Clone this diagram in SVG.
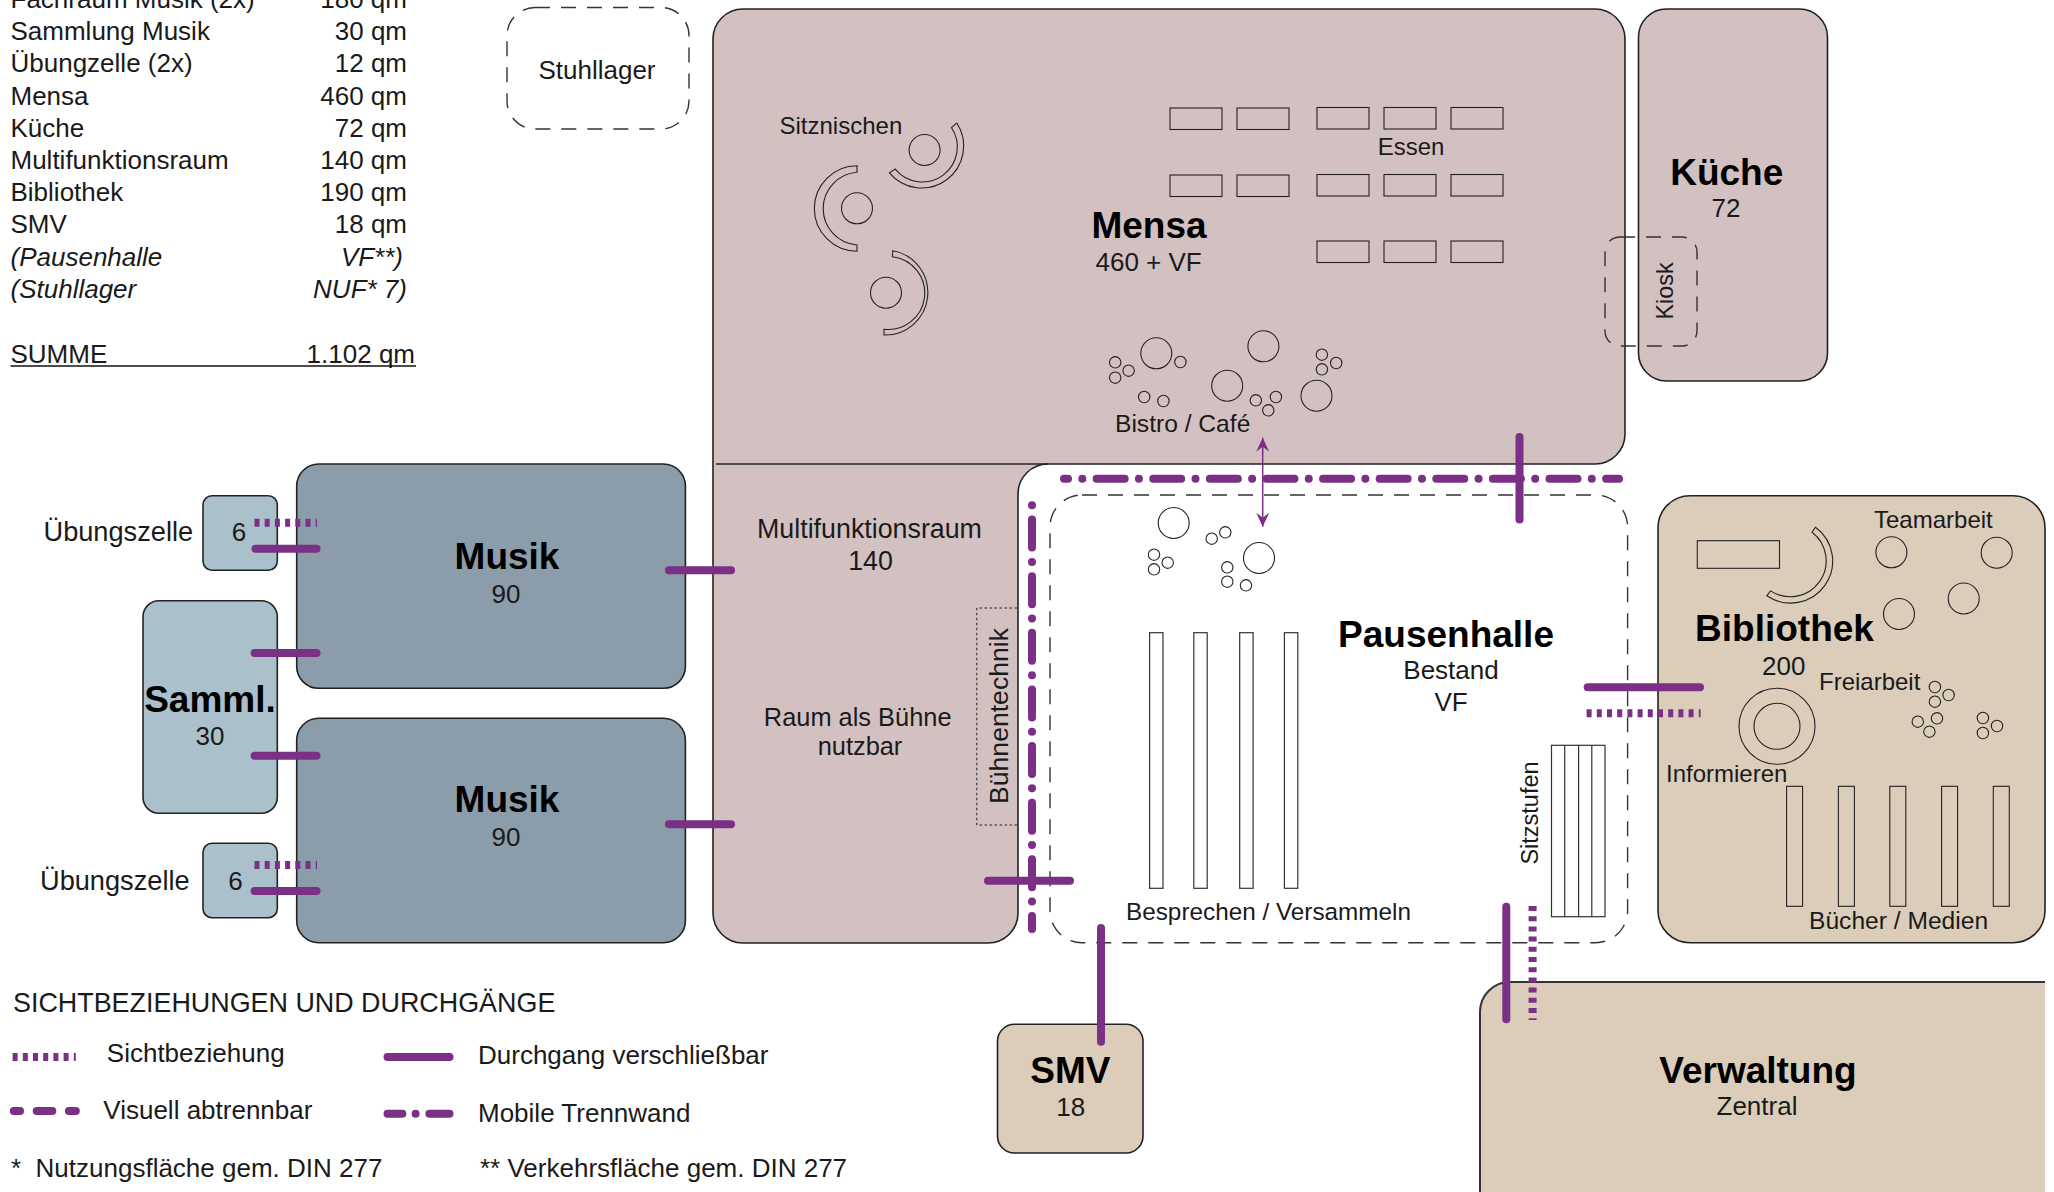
<svg xmlns="http://www.w3.org/2000/svg" width="2054" height="1192" viewBox="0 0 2054 1192">
<defs>
<marker id="head" viewBox="0 0 14 13" refX="14" refY="6.5" markerWidth="14" markerHeight="13" markerUnits="userSpaceOnUse" orient="auto-start-reverse"><path d="M14 6.5 L0 0 L5 6.5 L0 13 Z" fill="#7b2f85"/></marker>
</defs>
<style>
text{font-family:"Liberation Sans",Arial,sans-serif;fill:#1a1a1a;font-size:26px;white-space:pre}
.m{text-anchor:middle}
.e{text-anchor:end}
.t{font-weight:bold;font-size:37px;fill:#000;text-anchor:middle}
.s{font-size:24px}
.i{font-style:italic}
.room{stroke:#222;stroke-width:1.6}
.men{fill:#d3c1c2}
.mus{fill:#8b9daa}
.sam{fill:#aac1cb}
.bib{fill:#dbcdba}
.dash{fill:none;stroke:#333;stroke-width:1.4;stroke-dasharray:15 11}
.fur{fill:none;stroke:#222;stroke-width:1.1}
.ben{fill:#fff;stroke:#333;stroke-width:1.2}
.door,.sight,.wall,.vis,.arrow{fill:none;stroke:#7b2f85}
.door{stroke-width:8;stroke-linecap:round}
.sight{stroke-width:8;stroke-dasharray:5 5.2}
.wall{stroke-width:8;stroke-linecap:round;stroke-dasharray:28 14.3 .01 14.3}
.vis{stroke-width:8;stroke-linecap:round}
.arrow{stroke-width:1.5;marker-start:url(#head);marker-end:url(#head)}
</style>

<g id="area-table">
<text x="10.5" y="8">Fachraum Musik (2x)</text><text class="e" x="407" y="8">180 qm</text>
<text x="10.5" y="40">Sammlung Musik</text><text class="e" x="407" y="40">30 qm</text>
<text x="10.5" y="72">Übungzelle (2x)</text><text class="e" x="407" y="72">12 qm</text>
<text x="10.5" y="105">Mensa</text><text class="e" x="407" y="105">460 qm</text>
<text x="10.5" y="137">Küche</text><text class="e" x="407" y="137">72 qm</text>
<text x="10.5" y="169">Multifunktionsraum</text><text class="e" x="407" y="169">140 qm</text>
<text x="10.5" y="201">Bibliothek</text><text class="e" x="407" y="201">190 qm</text>
<text x="10.5" y="233">SMV</text><text class="e" x="407" y="233">18 qm</text>
<text class="i" x="10.5" y="266">(Pausenhalle</text><text class="i e" x="403" y="266">VF**)</text>
<text class="i" x="10.5" y="298">(Stuhllager</text><text class="i e" x="407" y="298">NUF* 7)</text>
<text x="10.5" y="363">SUMME</text><text class="e" x="415" y="363">1.102 qm</text>
<line x1="10.5" y1="366" x2="416" y2="366" stroke="#111" stroke-width="1.5"/>
</g>

<g id="stuhllager">
<rect class="dash" x="507" y="7.5" width="182" height="121.5" rx="28"/>
<text class="m" x="597" y="79">Stuhllager</text>
</g>

<g id="mensa-multifunktionsraum">
<path class="room men" d="M743 9H1595A30 30 0 0 1 1625 39V434A30 30 0 0 1 1595 464H1048A30 30 0 0 0 1018 494V913A30 30 0 0 1 988 943H743A30 30 0 0 1 713 913V39A30 30 0 0 1 743 9Z"/>
<line x1="716" y1="464" x2="1048" y2="464" stroke="#222" stroke-width="1.6"/>
</g>

<g id="mensa">
<text class="s" x="779.5" y="134">Sitznischen</text>
<g class="fur">
<circle cx="924.6" cy="150" r="15.5"/>
<path d="M956.8 123A42 42 0 0 1 889.4 172.9L895.2 169.1A35 35 0 0 0 951.4 127.5Z"/>
<circle cx="857" cy="208.3" r="15.5"/>
<path d="M857 165.8A42.7 42.7 0 0 0 857 251.2V245A36.5 36.5 0 0 1 857 172.2Z"/>
<circle cx="886" cy="292.7" r="15.5"/>
<path d="M892.9 250.7A42.5 42.5 0 0 1 884 335V329.3A36.5 36.5 0 0 0 892.4 256.7Z"/>
<rect x="1170" y="108" width="52" height="21.5"/><rect x="1237" y="108" width="52" height="21.5"/>
<rect x="1170" y="175" width="52" height="21.5"/><rect x="1237" y="175" width="52" height="21.5"/>
<rect x="1317" y="107.5" width="52" height="21.5"/><rect x="1384" y="107.5" width="52" height="21.5"/><rect x="1451" y="107.5" width="52" height="21.5"/>
<rect x="1317" y="174.5" width="52" height="21.5"/><rect x="1384" y="174.5" width="52" height="21.5"/><rect x="1451" y="174.5" width="52" height="21.5"/>
<rect x="1317" y="241" width="52" height="21.5"/><rect x="1384" y="241" width="52" height="21.5"/><rect x="1451" y="241" width="52" height="21.5"/>
<circle cx="1156.3" cy="353.3" r="15.5"/><circle cx="1263.4" cy="346.3" r="15.5"/><circle cx="1227.2" cy="385.7" r="15.5"/><circle cx="1316.5" cy="395.7" r="15.5"/>
<circle cx="1115.2" cy="362.3" r="5.7"/><circle cx="1128.6" cy="370.7" r="5.7"/><circle cx="1115.2" cy="377.7" r="5.7"/><circle cx="1180.4" cy="362" r="5.7"/><circle cx="1144.2" cy="397" r="5.7"/><circle cx="1163.4" cy="401" r="5.7"/><circle cx="1255.8" cy="400.3" r="5.7"/><circle cx="1275.9" cy="397" r="5.7"/><circle cx="1268.3" cy="410.3" r="5.7"/><circle cx="1321.9" cy="354.7" r="5.7"/><circle cx="1336.2" cy="363" r="5.7"/><circle cx="1321.9" cy="369.3" r="5.7"/>
</g>
<text class="s" x="1377.7" y="155">Essen</text>
<text class="t" x="1149" y="238">Mensa</text>
<text class="m" x="1148.6" y="271">460 + VF</text>
<text class="s" style="font-size:24.6px" x="1115" y="432">Bistro / Café</text>
</g>

<g id="multifunktionsraum">
<text class="m" style="font-size:26.8px" x="869.5" y="538">Multifunktionsraum</text>
<text class="m" style="font-size:26.8px" x="870.5" y="570">140</text>
<text class="m" style="font-size:25.4px" x="857.7" y="726">Raum als Bühne</text>
<text class="m" style="font-size:25.4px" x="860" y="755">nutzbar</text>
<path d="M1017 608H976.8V825H1017" fill="none" stroke="#222" stroke-width="1" stroke-dasharray="2.5 2.5"/>
<text class="m" style="font-size:26.6px" transform="translate(1008 716) rotate(-90)">Bühnentechnik</text>
</g>

<g id="kueche">
<rect class="room men" x="1638.5" y="9" width="189" height="372" rx="28"/>
<text class="t" x="1726.7" y="185">Küche</text>
<text class="m" x="1726" y="217">72</text>
</g>

<g id="kiosk">
<rect class="dash" x="1605" y="237" width="92" height="109" rx="15"/>
<text class="m" style="font-size:23.4px" transform="translate(1673 291) rotate(-90)">Kiosk</text>
</g>

<g id="musik-1">
<rect class="room mus" x="296.7" y="464" width="388.7" height="224.3" rx="22"/>
<text class="t" x="507" y="569">Musik</text>
<text class="m" x="506" y="602.5">90</text>
</g>
<g id="musik-2">
<rect class="room mus" x="296.7" y="718.3" width="388.7" height="224.4" rx="22"/>
<text class="t" x="507" y="812">Musik</text>
<text class="m" x="506" y="845.5">90</text>
</g>
<g id="sammlung">
<rect class="room sam" x="143" y="600.7" width="134.3" height="212.6" rx="16"/>
<text class="t" x="210" y="711.5">Samml.</text>
<text class="m" x="210" y="745">30</text>
</g>
<g id="uebungszelle-1">
<rect class="room sam" x="203" y="495.7" width="74.3" height="74.6" rx="9"/>
<text class="m" x="239" y="541">6</text>
<text style="font-size:27.2px" x="43.5" y="540.7">Übungszelle</text>
</g>
<g id="uebungszelle-2">
<rect class="room sam" x="203" y="843.3" width="74.3" height="74.4" rx="9"/>
<text class="m" x="235.6" y="890">6</text>
<text style="font-size:27.2px" x="40" y="890">Übungszelle</text>
</g>

<g id="pausenhalle">
<rect class="dash" x="1050" y="495" width="577.6" height="447.7" rx="32"/>
<g class="fur">
<circle cx="1173.7" cy="523" r="15.5"/><circle cx="1259" cy="558" r="15.5"/>
<circle cx="1211.7" cy="538.7" r="5.7"/><circle cx="1225.3" cy="532.3" r="5.7"/><circle cx="1154" cy="554.7" r="5.7"/><circle cx="1167.7" cy="562.7" r="5.7"/><circle cx="1154" cy="569.3" r="5.7"/><circle cx="1227.3" cy="567.3" r="5.7"/><circle cx="1227.3" cy="581.7" r="5.7"/><circle cx="1246" cy="585.3" r="5.7"/>
</g>
<rect class="ben" x="1149.6" y="632.7" width="13.4" height="255.6"/>
<rect class="ben" x="1193.8" y="632.7" width="13.4" height="255.6"/>
<rect class="ben" x="1239.7" y="632.7" width="13.4" height="255.6"/>
<rect class="ben" x="1284.4" y="632.7" width="13.4" height="255.6"/>
<rect class="ben" x="1551.5" y="745.3" width="53.5" height="171.4"/>
<path class="ben" d="M1564.7 745.3V916.7M1578.6 745.3V916.7M1591.8 745.3V916.7"/>
<text class="t" x="1446" y="647">Pausenhalle</text>
<text class="m" x="1451" y="679">Bestand</text>
<text class="m" x="1451" y="711">VF</text>
<text class="s" style="font-size:24.3px" x="1126" y="920">Besprechen / Versammeln</text>
<text class="m" style="font-size:23.5px" transform="translate(1538.4 813) rotate(-90)">Sitzstufen</text>
</g>

<g id="bibliothek">
<rect class="room bib" x="1658" y="495.7" width="387" height="447" rx="32"/>
<g class="fur">
<rect x="1697.3" y="540.7" width="82.2" height="27.6"/>
<path d="M1815.5 527.2A42 42 0 0 1 1766.9 595.7L1770.5 590.9A36 36 0 0 0 1812.1 532.2Z"/>
<circle cx="1891.4" cy="552.3" r="15.5"/><circle cx="1996.7" cy="552.7" r="15.5"/><circle cx="1963.7" cy="598.5" r="15.5"/><circle cx="1899" cy="614" r="15.5"/>
<circle cx="1934.9" cy="687" r="5.7"/><circle cx="1948.6" cy="695" r="5.7"/><circle cx="1934.9" cy="701.7" r="5.7"/><circle cx="1937" cy="718.3" r="5.7"/><circle cx="1917.8" cy="721.7" r="5.7"/><circle cx="1929.4" cy="731.7" r="5.7"/><circle cx="1982.9" cy="718" r="5.7"/><circle cx="1997" cy="726" r="5.7"/><circle cx="1982.9" cy="733" r="5.7"/>
<circle cx="1777" cy="726.3" r="38"/><circle cx="1777" cy="726.3" r="23"/>
<rect x="1786.6" y="786.3" width="16" height="120"/><rect x="1838.4" y="786.3" width="16" height="120"/><rect x="1889.8" y="786.3" width="16" height="120"/><rect x="1941.6" y="786.3" width="16" height="120"/><rect x="1993.3" y="786.3" width="16" height="120"/>
</g>
<text class="s" x="1874" y="528">Teamarbeit</text>
<text class="t" x="1784.5" y="641">Bibliothek</text>
<text class="m" x="1783.7" y="675">200</text>
<text class="s" x="1819" y="690">Freiarbeit</text>
<text class="s" x="1666" y="782">Informieren</text>
<text class="s" style="font-size:24.6px" x="1809" y="929">Bücher / Medien</text>
</g>

<g id="smv">
<rect class="room bib" x="997.5" y="1024.3" width="145.5" height="128.7" rx="17"/>
<text class="t" x="1070.4" y="1083">SMV</text>
<text class="m" x="1070.7" y="1116">18</text>
</g>

<g id="verwaltung">
<path class="bib" d="M1480 1192V1012A30 30 0 0 1 1510 982H2045V1192Z"/>
<path d="M1480 1192V1012A30 30 0 0 1 1510 982H2045" fill="none" stroke="#333" stroke-width="2"/>
<text class="t" x="1758" y="1083">Verwaltung</text>
<text class="m" x="1757" y="1115">Zentral</text>
</g>

<g id="connectors">
<line class="wall" x1="1064" y1="478.7" x2="1619" y2="478.7" stroke-dashoffset="24"/>
<line class="wall" x1="1032" y1="505.3" x2="1032" y2="929" stroke-dashoffset="42.3"/>
<line class="arrow" x1="1262.7" y1="437.7" x2="1262.7" y2="526.7"/>
<line class="door" x1="1519.5" y1="437" x2="1519.5" y2="519.5"/>
<line class="door" x1="988" y1="880.7" x2="1070" y2="880.7"/>
<line class="door" x1="1587.7" y1="687.3" x2="1700" y2="687.3"/>
<line class="sight" x1="1586.6" y1="713.3" x2="1700.6" y2="713.3"/>
<line class="door" x1="1101" y1="928" x2="1101" y2="1041.7"/>
<line class="door" x1="1506.3" y1="906.7" x2="1506.3" y2="1019.3"/>
<line class="sight" x1="1532.6" y1="906" x2="1532.6" y2="1020"/>
<line class="door" x1="255.5" y1="548.7" x2="316.5" y2="548.7"/>
<line class="sight" x1="254.5" y1="522.7" x2="317" y2="522.7"/>
<line class="door" x1="254.6" y1="653" x2="316.5" y2="653"/>
<line class="door" x1="254.6" y1="755.7" x2="316.5" y2="755.7"/>
<line class="sight" x1="254.5" y1="865" x2="317" y2="865"/>
<line class="door" x1="254.6" y1="891" x2="316.5" y2="891"/>
<line class="door" x1="669" y1="570.3" x2="731" y2="570.3"/>
<line class="door" x1="669" y1="824.3" x2="731" y2="824.3"/>
</g>

<g id="legend">
<text style="font-size:26.9px" x="13" y="1011.5">SICHTBEZIEHUNGEN UND DURCHGÄNGE</text>
<line class="sight" x1="12.6" y1="1057" x2="75.8" y2="1057"/>
<text x="106.8" y="1061.7">Sichtbeziehung</text>
<line class="door" x1="387.5" y1="1057" x2="449.5" y2="1057"/>
<text x="478" y="1064.3">Durchgang verschließbar</text>
<path class="vis" d="M13.8 1111H20M36.7 1111H52.3M68.9 1111H75.8"/>
<text x="103.3" y="1119">Visuell abtrennbar</text>
<path class="vis" d="M387.5 1113.7H402.4M415.6 1113.7H415.61M429.4 1113.7H449.5"/>
<text x="478" y="1121.7">Mobile Trennwand</text>
<text x="11" y="1177.3">*  Nutzungsfläche gem. DIN 277</text>
<text x="480" y="1177.3">** Verkehrsfläche gem. DIN 277</text>
</g>
</svg>
